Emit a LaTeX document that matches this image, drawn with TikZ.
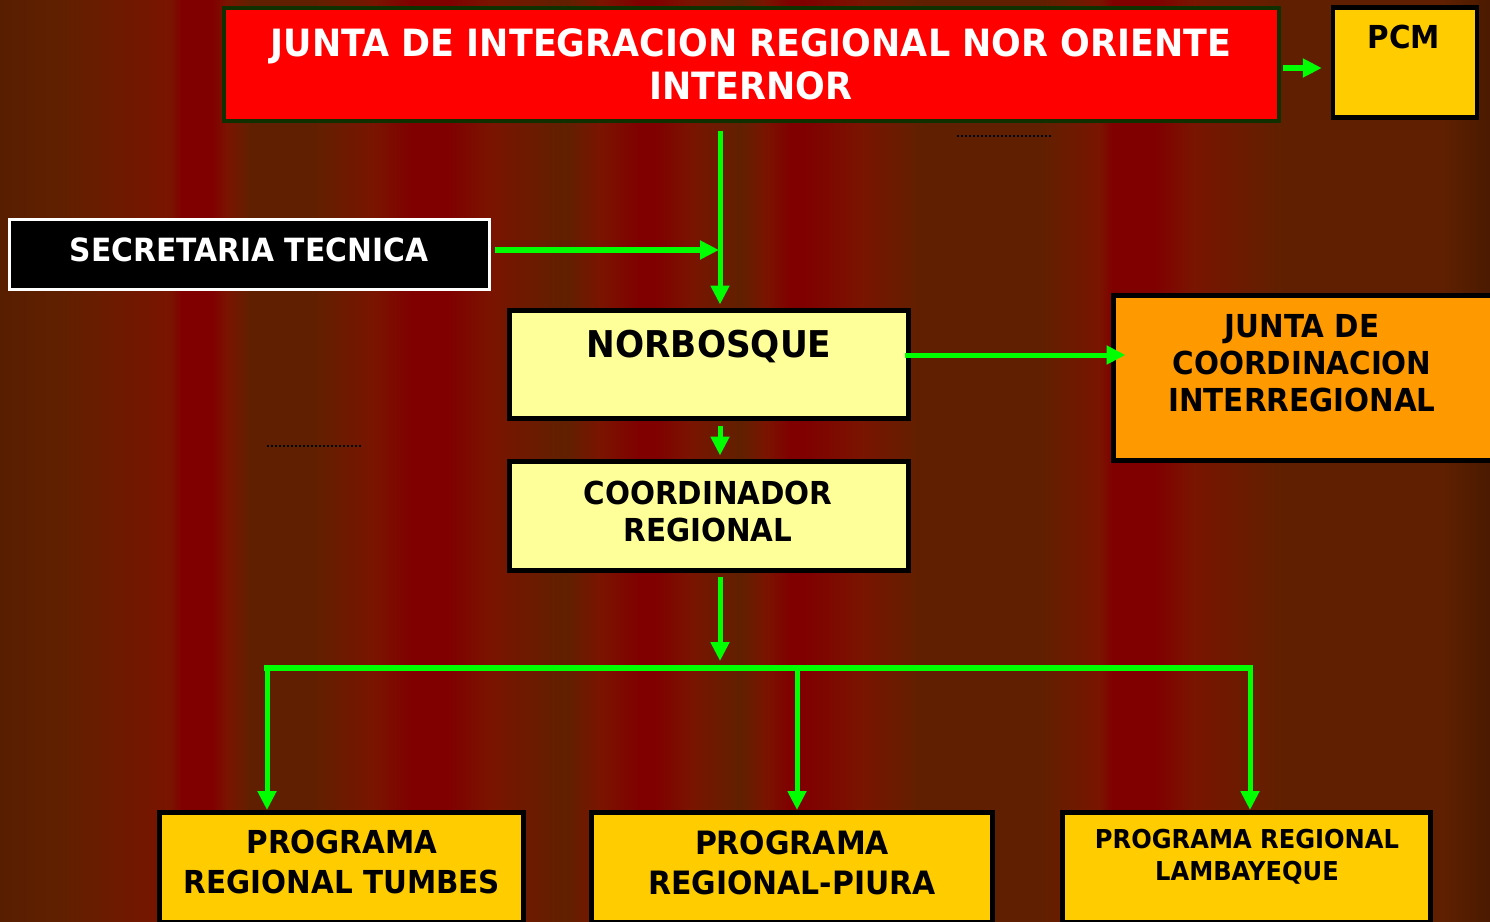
\documentclass[tikz,border=0pt]{standalone}
\usepackage{fontspec}
\usetikzlibrary{arrows.meta}
\newfontfamily\orgfont{DejaVu Sans}[FakeStretch=0.93]

\definecolor{bgbrown}{RGB}{96,32,0}
\definecolor{bgorange}{RGB}{122,20,0}
\definecolor{bgred}{RGB}{128,0,0}
\definecolor{bgleft}{RGB}{88,30,0}
\definecolor{bgright}{RGB}{74,26,0}
\definecolor{flowgreen}{RGB}{0,255,0}
\definecolor{titlered}{RGB}{255,0,0}
\definecolor{titleedge}{RGB}{16,48,0}
\definecolor{gold}{RGB}{255,204,0}
\definecolor{paleyellow}{RGB}{255,255,153}
\definecolor{juntaorange}{RGB}{255,153,0}

\begin{document}
\begin{tikzpicture}[x=0.02cm,y=-0.02cm,
    main box/.style={rectangle,draw=black,line width=0.1cm,inner sep=0pt},
    box text/.style={anchor=north,inner sep=0pt,align=center,text=black},
    flow/.style={draw=flowgreen,line width=0.1cm,-{Triangle[length=0.38cm,width=0.36cm]}},
    thick flow/.style={flow,line width=0.13cm},
    dots/.style={draw=black,line width=0.04cm,dash pattern=on 0.04cm off 0.04cm}]
    \useasboundingbox (0,0) rectangle (1490,922);

    % striped background
    \foreach \xa/\ca/\xb/\cb in {0/bgleft/60/bgbrown, 60/bgbrown/170/bgorange, 170/bgorange/181/bgred,
        181/bgred/212/bgred, 212/bgred/226/bgorange, 226/bgorange/250/bgbrown, 250/bgbrown/311/bgbrown,
        311/bgbrown/375/bgorange, 375/bgorange/411/bgred, 411/bgred/447/bgred, 447/bgred/490/bgorange,
        490/bgorange/565/bgbrown, 565/bgbrown/600/bgorange, 600/bgorange/639/bgred, 639/bgred/655/bgred,
        655/bgred/690/bgorange, 690/bgorange/740/bgbrown, 740/bgbrown/765/bgorange, 765/bgorange/790/bgred,
        790/bgred/804/bgred, 804/bgred/860/bgorange, 860/bgorange/922/bgbrown, 922/bgbrown/1040/bgbrown,
        1040/bgbrown/1100/bgorange, 1100/bgorange/1112/bgred, 1112/bgred/1155/bgred, 1155/bgred/1190/bgorange,
        1190/bgorange/1281/bgbrown, 1281/bgbrown/1440/bgbrown, 1440/bgbrown/1490/bgright}
        \shade[left color=\ca,right color=\cb] (\xa,0) rectangle (\xb+1,922);

    % boxes
    \node[main box,draw=titleedge,fill=titlered,line width=0.08cm,minimum width=21.1cm,minimum height=2.26cm] (title) at (751.5,64.5) {};
    \node[main box,fill=gold,line width=0.09cm,minimum width=2.88cm,minimum height=2.2cm] (pcm) at (1405,62.5) {};
    \node[main box,draw=white,fill=black,line width=0.06cm,minimum width=9.62cm,minimum height=1.4cm] (secretaria) at (249.5,254.5) {};
    \node[main box,fill=paleyellow,minimum width=7.98cm,minimum height=2.16cm] (norbosque) at (709,364.5) {};
    \node[main box,fill=paleyellow,minimum width=7.98cm,minimum height=2.18cm] (coordinador) at (709,516) {};
    \node[main box,fill=juntaorange,minimum width=7.74cm,minimum height=3.3cm] (junta) at (1307,378) {};
    \node[main box,fill=gold,minimum width=7.28cm,minimum height=2.19cm] (tumbes) at (341.5,867.25) {};
    \node[main box,fill=gold,minimum width=8.02cm,minimum height=2.19cm] (piura) at (792,867.25) {};
    \node[main box,fill=gold,minimum width=7.36cm,minimum height=2.19cm] (lambayeque) at (1246.5,867.25) {};

    % texts
    \node[box text,text=white,font=\orgfont\bfseries\fontsize{21.4}{24.5}\selectfont] (title-t) at (751,28) {JUNTA DE INTEGRACION REGIONAL NOR ORIENTE\\INTERNOR};
    \node[box text,font=\orgfont\bfseries\fontsize{18}{21}\selectfont] (pcm-t) at (1404,25) {PCM};
    \node[box text,text=white,font=\orgfont\bfseries\fontsize{18.2}{21}\selectfont] (secretaria-t) at (249,237) {SECRETARIA TECNICA};
    \node[box text,font=\orgfont\bfseries\fontsize{21}{24}\selectfont] (norbosque-t) at (709,330) {NORBOSQUE};
    \node[box text,font=\orgfont\bfseries\fontsize{18}{21}\selectfont] (coordinador-t) at (708,481) {COORDINADOR\\REGIONAL};
    \node[box text,font=\orgfont\bfseries\fontsize{18}{21}\selectfont] (junta-t) at (1302,314) {JUNTA DE\\COORDINACION\\INTERREGIONAL};
    \node[box text,font=\orgfont\bfseries\fontsize{18}{22.8}\selectfont] (tumbes-t) at (342,830) {PROGRAMA\\REGIONAL TUMBES};
    \node[box text,font=\orgfont\bfseries\fontsize{18.3}{22.8}\selectfont] (piura-t) at (792,830) {PROGRAMA\\REGIONAL-PIURA};
    \node[box text,font=\orgfont\bfseries\fontsize{14.8}{18.2}\selectfont] (lambayeque-t) at (1247,829) {PROGRAMA REGIONAL\\LAMBAYEQUE};

    % junction points
    \coordinate (spine) at (720,0);
    \coordinate (fork) at (720,668);
    \coordinate (forkL) at (267,668);
    \coordinate (forkM) at (797,668);
    \coordinate (forkR) at (1250,668);

    % connectors
    \draw[thick flow,shorten <=0.04cm,shorten >=0.18cm] ([yshift=-0.07cm]title.east) -- ([yshift=-0.07cm]title.east -| pcm.west);
    \draw[flow,shorten <=0.16cm,shorten >=0.07cm] (title.south -| spine) -- (norbosque.north -| spine);
    \draw[thick flow,shorten <=0.08cm,shorten >=0.02cm] ([yshift=0.09cm]secretaria.east) -- ([yshift=0.09cm]secretaria.east -| spine);
    \draw[flow,shorten <=-0.11cm,shorten >=-0.29cm] ([yshift=0.19cm]norbosque.east) -- ([yshift=0.19cm]norbosque.east -| junta.west);
    \draw[flow,shorten <=0.11cm,shorten >=0.07cm] (norbosque.south -| spine) -- (coordinador.north -| spine);
    \draw[flow,shorten <=0.09cm,shorten >=0.14cm] (coordinador.south -| spine) -- (fork);
    \draw[draw=flowgreen,line width=0.13cm,line cap=rect] (forkL) -- (forkR);
    \foreach \f/\b in {forkL/tumbes, forkM/piura, forkR/lambayeque}
        \draw[flow] (\f) -- (\f |- \b.north);

    % stray dotted marks
    \draw[dots] (957,136) -- (1051,136);
    \draw[dots] (267,446) -- (361,446);
\end{tikzpicture}
\end{document}
